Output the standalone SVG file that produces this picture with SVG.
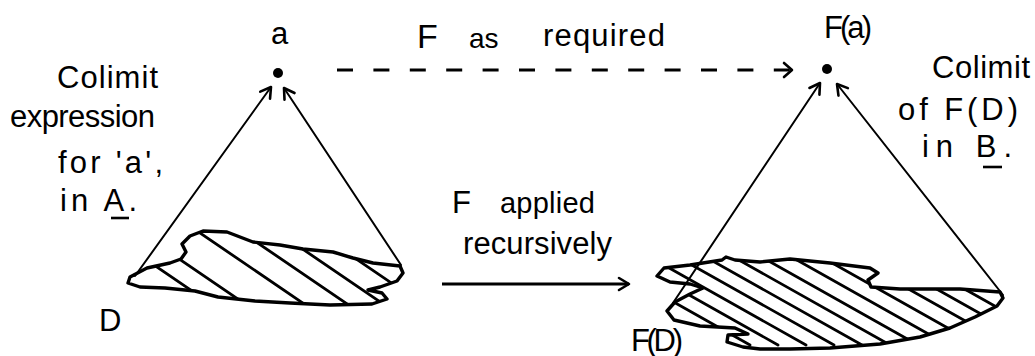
<svg xmlns="http://www.w3.org/2000/svg" width="1035" height="356" viewBox="0 0 1035 356">
<style>
text{font-family:"Liberation Sans",Arial,sans-serif;fill:#000;font-size:31px}
.edge{fill:none;stroke:#000;stroke-width:2;stroke-linecap:round}
.blob{fill:none;stroke:#000;stroke-width:3.4;stroke-linejoin:round}
.hatch{stroke:#000;stroke-width:2.8;stroke-linecap:round}
.ul{stroke:#000;stroke-width:2.6}
</style>
<defs>
<marker id="head" viewBox="-14 -10 16 20" refX="0" refY="0" markerWidth="16" markerHeight="20" orient="auto" markerUnits="userSpaceOnUse">
<path d="M-10,-6 L0,0 L-10,6" fill="none" stroke="#000" stroke-width="2.6" stroke-linecap="round" stroke-linejoin="round"/>
</marker>
<clipPath id="clipL"><path id="blobLpath" d="M130,277 L147,268 L170,263 L181,259 L186,252 L182,244 L190,236 L203,231 L227,232 L253,242 L280,245 L303,249 L333,252 L353,258 L373,263 L400,266 L403,273 L397,281 L380,287 L368,290 L382,293 L387,299 L372,304 L330,305 L290,303 L255,301 L218,297 L195,291 L165,288 L140,287 L128,283 Z"/></clipPath>
<clipPath id="clipR"><path id="blobRpath" d="M657,276 L664,268 L690,265 L722,260 L726,257 L735,260 L760,262 L790,259 L830,263 L870,268 L878,273 L868,280 L871,287 L900,289 L960,289 L1000,292 L1003,298 L997,306 L975,317 L950,328 L920,337 L880,344 L830,348 L790,349 L760,349 L743,347 L727,342 L728,335 L748,334 L735,328 L700,326 L674,320 L667,311 L675,302 L690,294 L703,288 L690,284 L670,282 Z"/></clipPath>
</defs>
<rect width="1035" height="356" fill="#fff"/>

<g id="node-a">
<circle cx="278" cy="73" r="5" fill="#000"/>
<text x="271" y="44" font-size="24" textLength="16">a</text>
</g>

<g id="node-Fa">
<circle cx="827" cy="69" r="5" fill="#000"/>
<text x="824" y="38" font-size="24" textLength="48">F(a)</text>
</g>

<g id="node-D">
<use href="#blobLpath" class="blob"/>
<g clip-path="url(#clipL)">
<line class="hatch" x1="88" y1="220" x2="220" y2="310"/>
<line class="hatch" x1="122" y1="220" x2="254" y2="310"/>
<line class="hatch" x1="181" y1="220" x2="313" y2="310"/>
<line class="hatch" x1="224" y1="220" x2="356" y2="310"/>
<line class="hatch" x1="260" y1="220" x2="392" y2="310"/>
<line class="hatch" x1="299" y1="220" x2="431" y2="310"/>
</g>
<text x="99" y="331" font-size="32" textLength="21">D</text>
</g>

<g id="node-FD">
<use href="#blobRpath" class="blob"/>
<g clip-path="url(#clipR)">
<line class="hatch" x1="590" y1="255" x2="750" y2="345"/>
<line class="hatch" x1="618" y1="255" x2="778" y2="345"/>
<line class="hatch" x1="646" y1="255" x2="806" y2="345"/>
<line class="hatch" x1="674" y1="255" x2="834" y2="345"/>
<line class="hatch" x1="702" y1="255" x2="862" y2="345"/>
<line class="hatch" x1="730" y1="255" x2="890" y2="345"/>
<line class="hatch" x1="758" y1="255" x2="918" y2="345"/>
<line class="hatch" x1="788" y1="255" x2="948" y2="345"/>
<line class="hatch" x1="818" y1="255" x2="978" y2="345"/>
<line class="hatch" x1="848" y1="255" x2="1008" y2="345"/>
<line class="hatch" x1="876" y1="255" x2="1036" y2="345"/>
<line class="hatch" x1="904" y1="255" x2="1064" y2="345"/>
</g>
<text x="631" y="351" font-size="26" textLength="52">F(D)</text>
</g>

<g id="label-left">
<text x="57" y="88" textLength="101">Colimit</text>
<text x="10" y="127" font-size="29" textLength="145">expression</text>
<text x="58" y="173" textLength="105">for 'a',</text>
<text x="60" y="211" textLength="77">in A.</text>
<line class="ul" x1="111" y1="218" x2="129" y2="218"/>
</g>

<g id="label-right">
<text x="932" y="78" textLength="98">Colimit</text>
<text x="898" y="120" textLength="120">of F(D)</text>
<text x="922" y="157" textLength="90">in B.</text>
<line class="ul" x1="983" y1="167" x2="1002" y2="167"/>
</g>

<g id="label-top">
<text><tspan x="417" y="48" font-size="34">F </tspan><tspan x="469" y="48" font-size="28">as </tspan><tspan x="543" y="46" textLength="122">required</tspan></text>
</g>

<g id="label-mid">
<text><tspan x="452" y="213">F </tspan><tspan x="500" y="213" font-size="29" textLength="95">applied</tspan></text>
<text x="463" y="254" textLength="149">recursively</text>
</g>

<g id="connectors">
<line class="edge" x1="135" y1="276" x2="271" y2="87" marker-end="url(#head)"/>
<line class="edge" x1="401" y1="265" x2="284" y2="88" marker-end="url(#head)"/>
<line class="edge" x1="673" y1="303" x2="820" y2="83" marker-end="url(#head)"/>
<line class="edge" x1="1003" y1="295" x2="837" y2="84" marker-end="url(#head)"/>
<line x1="337" y1="70" x2="790" y2="70" stroke="#000" stroke-width="3" stroke-dasharray="16 20.4"/>
<path d="M784,63 L792,70 L784,77" fill="none" stroke="#000" stroke-width="2.6" stroke-linecap="round" stroke-linejoin="round"/>
<line x1="442" y1="284" x2="629" y2="284" stroke="#000" stroke-width="3" marker-end="url(#head)"/>
</g>
</svg>
